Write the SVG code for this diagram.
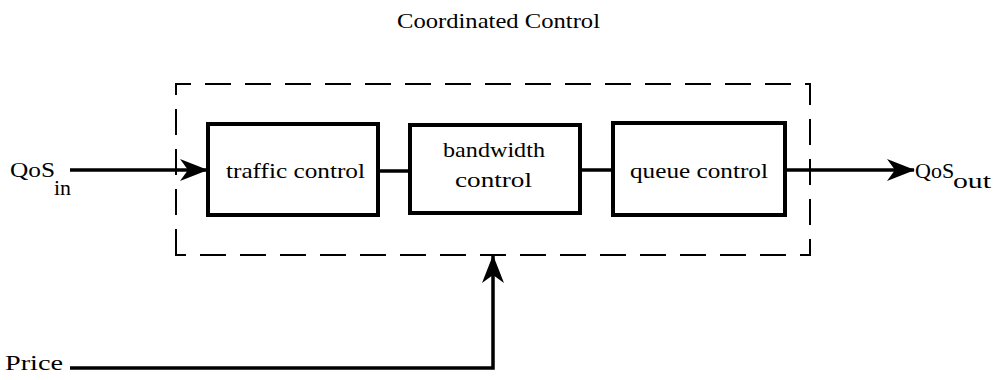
<svg xmlns="http://www.w3.org/2000/svg" width="1002" height="380" viewBox="0 0 1002 380">
<style>
text{font-family:"Liberation Serif","Times New Roman",serif;fill:#000;font-size:22px}
.box{fill:#fff;stroke:#000;stroke-width:4}
.ln{fill:none;stroke:#000;stroke-width:3.5}
.dash{fill:none;stroke:#000;stroke-width:2;stroke-dasharray:26 14}
</style>
<defs>
<marker id="ahb" markerWidth="28" markerHeight="22" refX="27" refY="11" orient="auto" markerUnits="userSpaceOnUse" viewBox="0 0 28 22">
<path d="M0,0 L28,11 L0,22 L8,11 Z" fill="#000"/>
</marker>
</defs>
<text x="397" y="28" textLength="203" lengthAdjust="spacingAndGlyphs">Coordinated Control</text>
<g id="group">
<path class="dash" d="M176,255 L176,84 L810,84 L810,255 Z"/>
</g>
<g id="connectors">
<line class="ln" x1="70" y1="170" x2="207" y2="170" marker-end="url(#ahb)"/>
<line class="ln" x1="378" y1="171" x2="410" y2="171"/>
<line class="ln" x1="580" y1="170" x2="613" y2="170"/>
<line class="ln" x1="785" y1="170" x2="914" y2="170" marker-end="url(#ahb)"/>
<path class="ln" d="M70,368 L493,368 L493,256" marker-end="url(#ahb)"/>
</g>
<g id="traffic">
<rect class="box" x="208" y="124" width="170" height="91"/>
<text x="226" y="178" textLength="139" lengthAdjust="spacingAndGlyphs">traffic control</text>
</g>
<g id="bandwidth">
<rect class="box" x="410" y="125" width="170" height="88"/>
<text x="443" y="157" textLength="102" lengthAdjust="spacingAndGlyphs">bandwidth</text>
<text x="455" y="187" textLength="77" lengthAdjust="spacingAndGlyphs">control</text>
</g>
<g id="queue">
<rect class="box" x="613" y="123" width="172" height="92"/>
<text x="630" y="178" textLength="138" lengthAdjust="spacingAndGlyphs">queue control</text>
</g>
<g id="qosin">
<text x="10" y="177" textLength="45" lengthAdjust="spacingAndGlyphs">QoS</text>
<text x="54" y="195" font-size="19" textLength="17" lengthAdjust="spacingAndGlyphs">in</text>
</g>
<g id="qosout">
<text x="915" y="178" font-size="21">QoS</text>
<text x="953" y="188" font-size="19" textLength="38" lengthAdjust="spacingAndGlyphs">out</text>
</g>
<g id="price">
<text x="5" y="370" textLength="58" lengthAdjust="spacingAndGlyphs">Price</text>
</g>
</svg>
